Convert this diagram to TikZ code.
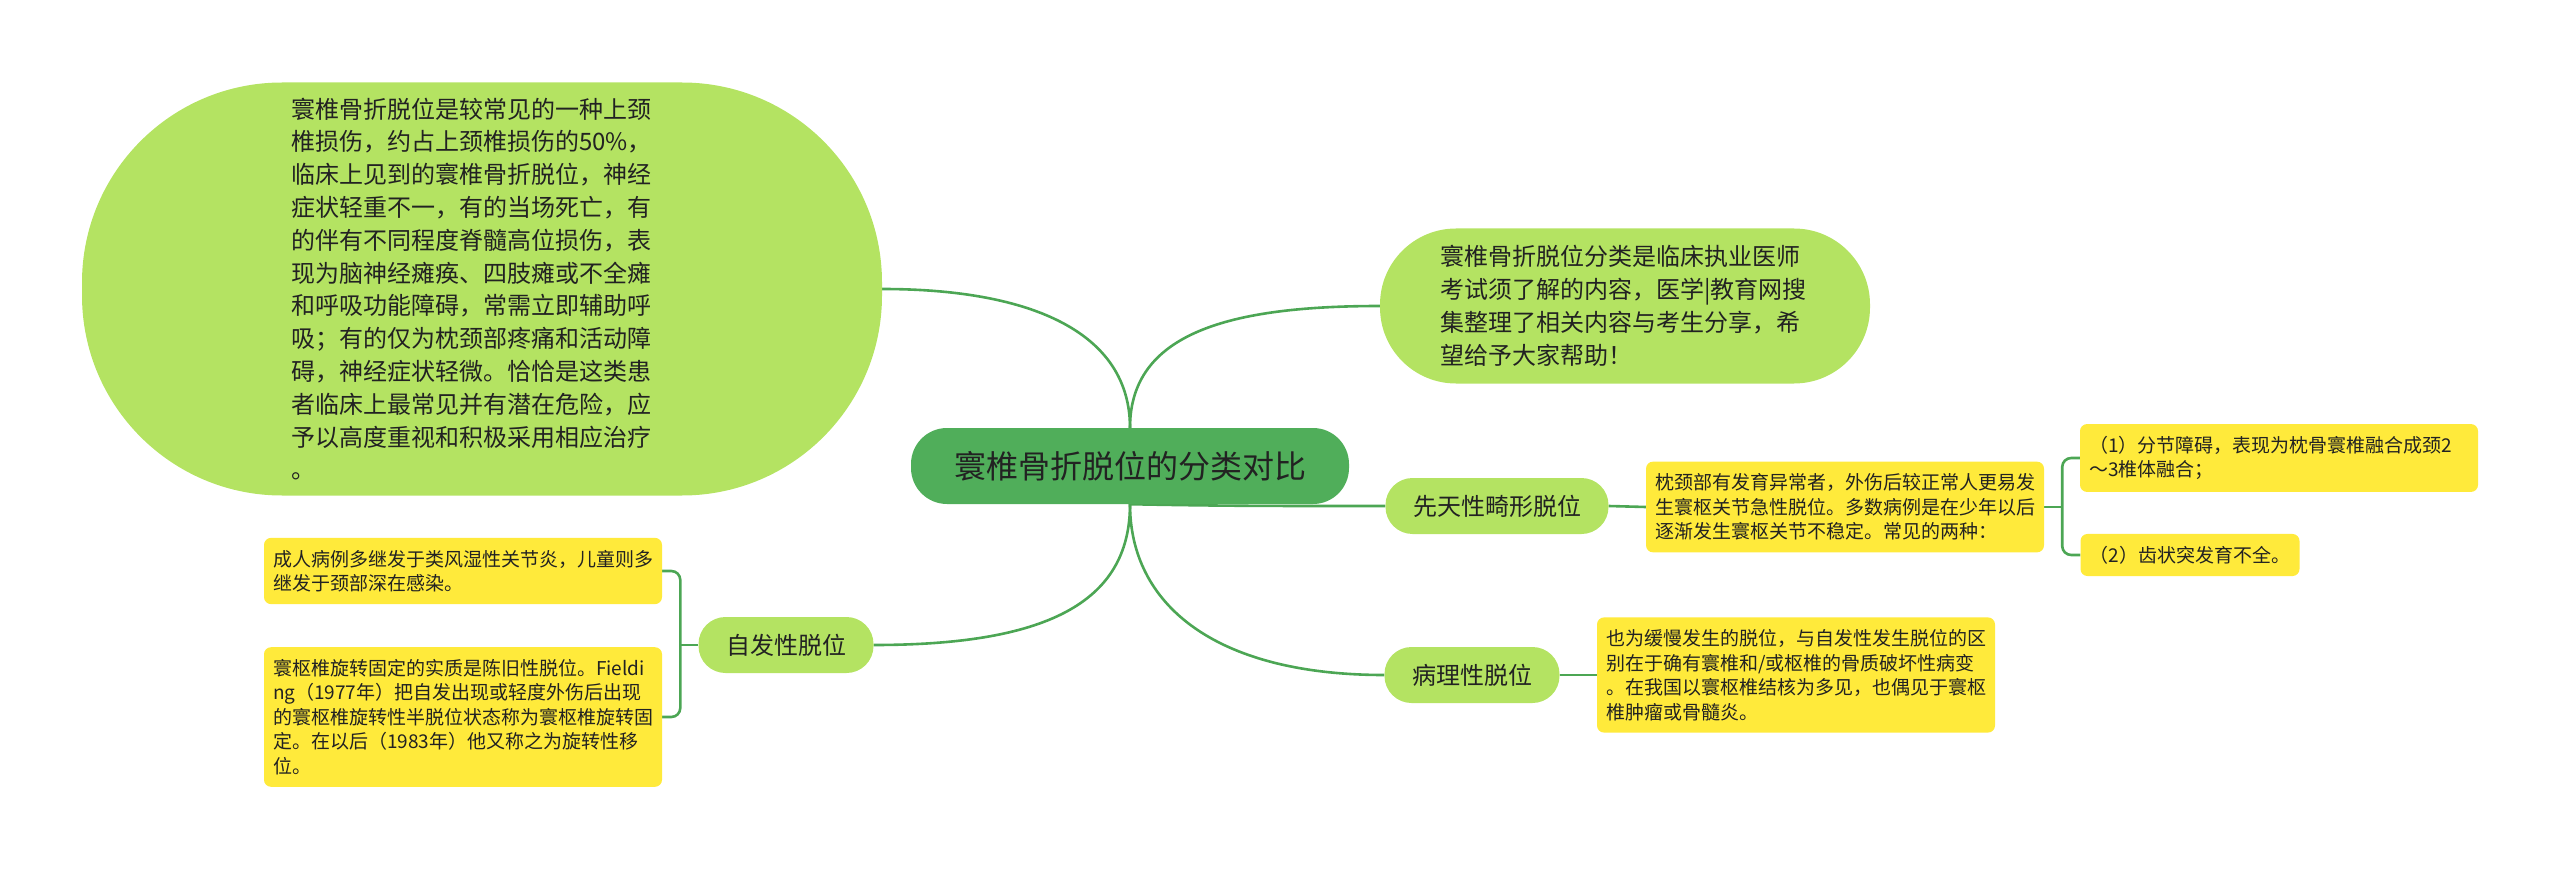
\documentclass[tikz,border=0pt]{standalone}
\usepackage{fontspec}
\setmainfont{Noto Sans CJK SC}
\usepackage{xcolor}
\usetikzlibrary{backgrounds}
\definecolor{lineg}{RGB}{76,166,84}
\definecolor{rootg}{RGB}{80,174,90}
\definecolor{leafg}{RGB}{180,227,98}
\definecolor{notey}{RGB}{255,234,59}
\definecolor{ink}{RGB}{34,34,34}

\begin{document}
\begin{tikzpicture}[x=1pt,y=-1pt]
\tikzstyle{every node}+=[text=ink]
\tikzstyle{root}=[fill=rootg, rounded corners=36pt, minimum width=438pt, minimum height=76pt, font=\fontsize{32}{38}\selectfont]
\tikzstyle{blob}=[fill=leafg, align=left, font=\fontsize{24}{32.8}\selectfont]
\tikzstyle{topic}=[fill=leafg, rounded corners=27pt, minimum height=56pt, inner xsep=27.5pt, font=\fontsize{24}{28}\selectfont]
\tikzstyle{note}=[fill=notey, rounded corners=7pt, align=left, inner xsep=9pt, inner ysep=12pt, font=\fontsize{19}{24.5}\selectfont]
\tikzstyle{link}=[draw=lineg, line width=2.6pt]
\useasboundingbox (0,0) rectangle (2560,869);
\node[root] (c) at (1130,466) {寰椎骨折脱位的分类对比};
\node[blob, rounded corners=200pt, minimum width=800pt, minimum height=413pt, text width=382pt] (blob) at (482,289) {寰椎骨折脱位是较常见的一种上颈\\椎损伤，约占上颈椎损伤的50\%，\\临床上见到的寰椎骨折脱位，神经\\症状轻重不一，有的当场死亡，有\\的伴有不同程度脊髓高位损伤，表\\现为脑神经瘫痪、四肢瘫或不全瘫\\和呼吸功能障碍，常需立即辅助呼\\吸；有的仅为枕颈部疼痛和活动障\\碍，神经症状轻微。恰恰是这类患\\者临床上最常见并有潜在危险，应\\予以高度重视和积极采用相应治疗\\。};
\node[blob, rounded corners=76pt, minimum width=490pt, minimum height=155pt, text width=370pt] (tr) at (1625,306) {寰椎骨折脱位分类是临床执业医师\\考试须了解的内容，医学|教育网搜\\集整理了相关内容与考生分享，希\\望给予大家帮助！};
\node[topic] (xt) at (1497,506) {先天性畸形脱位};
\node[topic] (zf) at (786,645) {自发性脱位};
\node[topic] (bl) at (1472,675) {病理性脱位};
\node[note, text width=380pt] (jz) at (1845,507) {枕颈部有发育异常者，外伤后较正常人更易发\\生寰枢关节急性脱位。多数病例是在少年以后\\逐渐发生寰枢关节不稳定。常见的两种：};
\node[note, text width=380pt] (p1) at (2279,458) {（1）分节障碍，表现为枕骨寰椎融合成颈2\\～3椎体融合；};
\node[note, minimum width=219pt] (p2) at (2190,555) {（2）齿状突发育不全。};
\node[note, text width=380pt] (cr) at (463,571) {成人病例多继发于类风湿性关节炎，儿童则多\\继发于颈部深在感染。};
\node[note, text width=380pt] (hs) at (463,717) {寰枢椎旋转固定的实质是陈旧性脱位。Fieldi\\ng（1977年）把自发出现或轻度外伤后出现\\的寰枢椎旋转性半脱位状态称为寰枢椎旋转固\\定。在以后（1983年）他又称之为旋转性移\\位。};
\node[note, text width=380pt] (yw) at (1796,675) {也为缓慢发生的脱位，与自发性发生脱位的区\\别在于确有寰椎和/或枢椎的骨质破坏性病变\\。在我国以寰枢椎结核为多见，也偶见于寰枢\\椎肿瘤或骨髓炎。};
\begin{scope}[on background layer]
\draw[link] (c.north) .. controls +(0,-95) and +(150,0) .. (blob.east);
\draw[link] (c.north) .. controls +(0,-95) and +(-150,0) .. (tr.west);
\draw[link] (c.south) .. controls +(100,2) and +(-100,0) .. (xt.west);
\draw[link] (c.south) .. controls +(0,100) and +(170,0) .. (zf.east);
\draw[link] (c.south) .. controls +(0,100) and +(-170,0) .. (bl.west);
\draw[link] (xt.east) -- (jz.west);
\draw[link] (jz.east) -- ++(18,0) coordinate (jzk);
\draw[link, rounded corners=9pt] (p1.west) -| (jzk) |- (p2.west);
\draw[link] (zf.west) -- ++(-18,0) coordinate (zfk);
\draw[link, rounded corners=9pt] (cr.east) -| (zfk) |- (hs.east);
\draw[link] (bl.east) -- (yw.west);
\end{scope}
\end{tikzpicture}
\end{document}
